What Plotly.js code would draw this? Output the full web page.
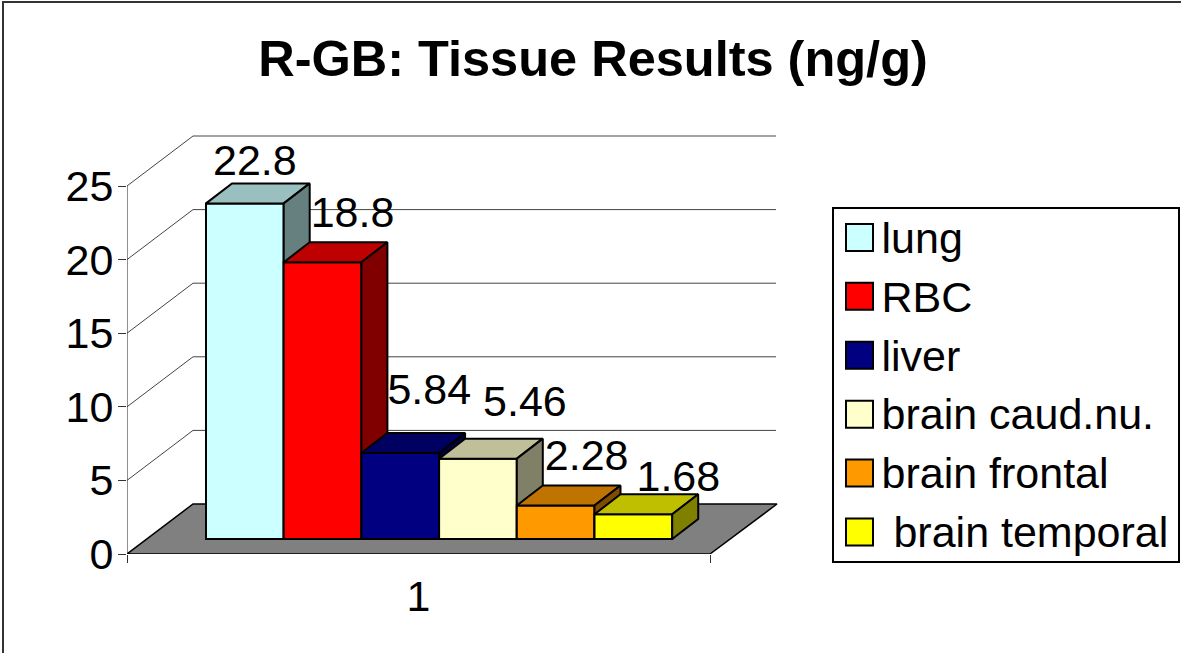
<!DOCTYPE html>
<html>
<head>
<meta charset="utf-8">
<script src="https://cdn.plot.ly/plotly-3.0.1.min.js"></script>
<style>
html,body{margin:0;padding:0;background:#fff;overflow:hidden}
#chart{width:1181px;height:653px}
.legendpoints path{transform:translate(26px,1.5px) scale(2.25) !important;vector-effect:non-scaling-stroke}
.legend rect.bg{transform:translate(0,7px);height:354px !important;width:346px !important}
</style>
</head>
<body>
<div id="chart"></div>
<script>
// Data
var seriesNames = ['lung','RBC','liver','brain caud.nu.','brain frontal',' brain temporal'];
var seriesValues = [22.8,18.8,5.84,5.46,2.28,1.68];
var valueLabels = ['22.8','18.8','5.84','5.46','2.28','1.68'];
var categoryLabels = ['1'];
var valueTicks = [0,5,10,15,20,25];

// Style
var frontColors = ['#CCFFFF','#FF0000','#000080','#FFFFCC','#FF9900','#FFFF00'];
var topColors   = ['#99BFBF','#BF0000','#000060','#BFBF99','#BF7300','#BFBF00'];
var sideColors  = ['#668080','#800000','#000040','#808066','#804D00','#808000'];
var labelShiftX = [10,30,29,47,31,45];
var labelShiftY = [39,46,60,53,46,34];
var textSize = 43;

// Projection scale (pixels per axis unit) and the oblique depths, in pixels
var pxPerCategory = 583, pxPerValue = 14.72;
var plotLeft = 127, plotBottom = 554, plotRight = 790, plotTop = 130;
var wallDX = 66, wallDY = 50, barDX = 26, barDY = 20;
var firstBarLeft = 79, barWidthPx = 77.7, barFloorPx = 15;
var ux = function(px){return px/pxPerCategory;};
var uy = function(px){return px/pxPerValue;};
var xRange = [0,(plotRight-plotLeft)/pxPerCategory];
var yRange = [0,(plotBottom-plotTop)/pxPerValue];
var H = 653, W = 1181;
var paperX = function(px){return (px-plotLeft)/(plotRight-plotLeft);};
var paperY = function(py){return (plotBottom-py)/(plotBottom-plotTop);};

var traces = [];
// Floor and walls in the base subplot
var gx = [], gy = [];
valueTicks.forEach(function(t){
  if(t===0) return;
  gx.push(0,ux(wallDX),ux(wallDX)+1,null);
  gy.push(t,t+uy(wallDY),t+uy(wallDY),null);
});
traces.push({type:'scatter',mode:'lines',x:gx,y:gy,line:{color:'#444',width:1},cliponaxis:false,showlegend:false,hoverinfo:'skip'});
traces.push({type:'scatter',mode:'lines',
  x:[0,1,1+ux(wallDX+1),ux(wallDX),0],
  y:[0,0,uy(wallDY),uy(wallDY),0],
  fill:'toself',fillcolor:'#808080',line:{color:'#000',width:1.5},cliponaxis:false,showlegend:false,hoverinfo:'skip'});
traces.push({type:'scatter',mode:'lines',x:[0,0],y:[0,valueTicks[valueTicks.length-1]],line:{color:'#222',width:1},cliponaxis:false,showlegend:false,hoverinfo:'skip'});

var layout = {
  width:W,height:H,
  paper_bgcolor:'#fff',plot_bgcolor:'rgba(0,0,0,0)',
  showlegend:true,
  barmode:'overlay',
  margin:{l:plotLeft,r:W-plotRight,t:plotTop,b:H-plotBottom,autoexpand:false,pad:0},
  font:{family:'"Liberation Sans", Arial, sans-serif',color:'#000'},
  title:{text:'R-GB: Tissue Results (ng/g)',font:{size:50.5,color:'#000',family:'"Liberation Sans", Arial, sans-serif',weight:700},
    x:593/W,xanchor:'center',xref:'container',y:1-58/H,yanchor:'middle',yref:'container'},
  xaxis:{range:xRange,tickmode:'array',tickvals:[0.5],ticktext:categoryLabels,ticks:'',showgrid:false,zeroline:false,showline:false,
    tickfont:{size:textSize,color:'#000'},ticklabelstandoff:13,
    minor:{tickmode:'array',tickvals:[0,1],ticks:'outside',ticklen:8,tickcolor:'#333',tickwidth:1,showgrid:false}},
  yaxis:{range:yRange,tickmode:'array',tickvals:valueTicks,ticktext:valueTicks.map(String),ticks:'outside',ticklen:8,tickcolor:'#333',tickwidth:1,
    showgrid:false,zeroline:false,showline:false,tickfont:{size:textSize,color:'#000'},ticklabelstandoff:-4},
  legend:{x:paperX(832),y:paperY(200),xanchor:'left',yanchor:'top',bgcolor:'#fff',bordercolor:'#000',borderwidth:1.5,
    font:{size:textSize,color:'#000'},itemwidth:38,traceorder:'normal',
    entrywidth:331,entrywidthmode:'pixels',itemclick:false,itemdoubleclick:false},
  shapes:[{type:'rect',xref:'paper',yref:'paper',x0:paperX(3),x1:paperX(1300),y0:paperY(800),y1:paperY(2),
    line:{color:'#333',width:2},fillcolor:'rgba(0,0,0,0)',layer:'below'}]
};

// One overlaid subplot per series so that each bar covers the sides of the one before it
seriesValues.forEach(function(v,i){
  var n = i+2, xa = 'x'+n, ya = 'y'+n;
  layout['xaxis'+n] = {range:xRange,overlaying:'x',visible:false,anchor:ya};
  layout['yaxis'+n] = {range:yRange,overlaying:'y',visible:false,anchor:xa};
  var left = ux(firstBarLeft+i*barWidthPx), w = ux(barWidthPx), right = left+w;
  var base = uy(barFloorPx), top = base+v, dx = ux(barDX), dy = uy(barDY);
  traces.push({type:'bar',name:seriesNames[i],x:[left+w/2],y:[v],base:[base],width:[w],xaxis:xa,yaxis:ya,
    marker:{color:frontColors[i],line:{color:'#000',width:2}},cliponaxis:false,hovertemplate:'%{y}<extra>'+seriesNames[i]+'</extra>'});
  traces.push({type:'scatter',mode:'lines',x:[left,right,right+dx,left+dx,left],y:[top,top,top+dy,top+dy,top],
    fill:'toself',fillcolor:topColors[i],line:{color:'#000',width:2},xaxis:xa,yaxis:ya,cliponaxis:false,showlegend:false,hoverinfo:'skip'});
  traces.push({type:'scatter',mode:'lines',x:[right,right+dx,right+dx,right,right],y:[base,base+dy,top+dy,top,base],
    fill:'toself',fillcolor:sideColors[i],line:{color:'#000',width:2},xaxis:xa,yaxis:ya,cliponaxis:false,showlegend:false,hoverinfo:'skip'});
});

// Data labels on the top subplot
var lastN = seriesValues.length+1;
traces.push({type:'scatter',mode:'text',
  x:seriesValues.map(function(v,i){return ux(firstBarLeft+(i+0.5)*barWidthPx+labelShiftX[i]);}),
  y:seriesValues.map(function(v,i){return uy(barFloorPx)+v+uy(labelShiftY[i]);}),
  text:valueLabels,textposition:'middle center',textfont:{size:textSize,color:'#000'},
  xaxis:'x'+lastN,yaxis:'y'+lastN,cliponaxis:false,showlegend:false,hoverinfo:'skip'});

Plotly.newPlot('chart',traces,layout,{displayModeBar:false,responsive:false});
</script>
</body>
</html>
